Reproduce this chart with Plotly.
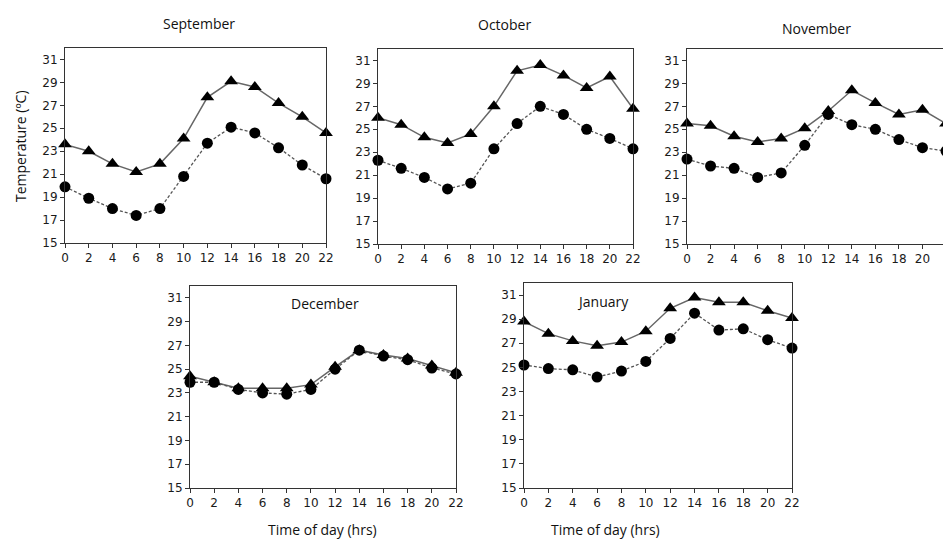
import plotly.graph_objects as go

hours = [0, 2, 4, 6, 8, 10, 12, 14, 16, 18, 20, 22]
months = ["September", "October", "November", "December", "January"]

tri_sep = [23.6, 23.0, 21.9, 21.2, 21.9, 24.1, 27.7, 29.1, 28.6, 27.2, 26.0, 24.6]
cir_sep = [19.9, 18.9, 18.0, 17.4, 18.0, 20.8, 23.7, 25.1, 24.6, 23.3, 21.8, 20.6]
tri_oct = [26.0, 25.4, 24.3, 23.8, 24.6, 27.0, 30.1, 30.6, 29.7, 28.6, 29.6, 26.8]
cir_oct = [22.3, 21.6, 20.8, 19.8, 20.3, 23.3, 25.5, 27.0, 26.3, 25.0, 24.2, 23.3]
tri_nov = [25.5, 25.3, 24.4, 23.9, 24.2, 25.1, 26.6, 28.4, 27.3, 26.3, 26.7, 25.5]
cir_nov = [22.4, 21.8, 21.6, 20.8, 21.2, 23.6, 26.3, 25.4, 25.0, 24.1, 23.4, 23.1]
tri_dec = [24.4, 23.9, 23.4, 23.4, 23.4, 23.7, 25.2, 26.6, 26.2, 25.9, 25.3, 24.7]
cir_dec = [23.9, 23.9, 23.3, 23.0, 22.9, 23.3, 25.0, 26.6, 26.1, 25.8, 25.1, 24.6]
tri_jan = [28.8, 27.8, 27.2, 26.8, 27.1, 28.0, 29.9, 30.8, 30.4, 30.4, 29.7, 29.1]
cir_jan = [25.2, 24.9, 24.8, 24.2, 24.7, 25.5, 27.4, 29.5, 28.1, 28.2, 27.3, 26.6]

y_ticks = [15, 17, 19, 21, 23, 25, 27, 29, 31]
x_ticks = hours

tri_data = [tri_sep, tri_oct, tri_nov, tri_dec, tri_jan]
cir_data = [cir_sep, cir_oct, cir_nov, cir_dec, cir_jan]

# the page puts the figure 8px in from the top-left corner
OFF = 8
W, H = 951 - OFF, 540 - OFF
# panel boxes in page pixels: (left, right, top, bottom)
boxes = [(65, 326, 48, 243), (378, 633, 49, 244), (687, 946, 49, 244),
         (190, 456, 286, 488), (524, 792, 283, 488)]


def px(x):
    return (x - OFF) / W


def py(y):
    return 1 - (y - OFF) / H


fig = go.Figure()
tick_font = dict(family="DejaVu Sans", size=12, color="#1a1a1a")
for i, (l, r, t, b) in enumerate(boxes):
    n = i + 1
    xa = "x" if n == 1 else f"x{n}"
    ya = "y" if n == 1 else f"y{n}"
    fig.add_trace(go.Scatter(
        x=hours, y=tri_data[i], xaxis=xa, yaxis=ya, mode="lines+markers",
        line=dict(color="#666666", width=1.5),
        marker=dict(symbol="triangle-up", size=12, color="black"),
        cliponaxis=False, showlegend=False))
    fig.add_trace(go.Scatter(
        x=hours, y=cir_data[i], xaxis=xa, yaxis=ya, mode="lines+markers",
        line=dict(color="#555555", width=1.3, dash="3px,2px"),
        marker=dict(symbol="circle", size=11, color="black"),
        cliponaxis=False, showlegend=False))
    axcommon = dict(showgrid=False, zeroline=False, showline=True, linecolor="#333",
                    linewidth=1, mirror=True, ticks="outside", ticklen=4,
                    tickcolor="#333", tickfont=tick_font, automargin=False)
    fig.update_layout(**{
        ("xaxis" if n == 1 else f"xaxis{n}"): dict(
            domain=[px(l), px(r)], range=[0, 22], tickvals=x_ticks,
            anchor=ya, **axcommon),
        ("yaxis" if n == 1 else f"yaxis{n}"): dict(
            domain=[py(b), py(t)], range=[15, 32], tickvals=y_ticks,
            anchor=xa, **axcommon),
    })

title_font = dict(family="Open Sans", size=14, color="#111")
ann = [
    dict(text="September", x=199, y=23),
    dict(text="October", x=504, y=24),
    dict(text="November", x=816, y=28),
    dict(text="December", x=325, y=303),
    dict(text="January", x=603, y=301),
]
annotations = []
for a in ann:
    annotations.append(dict(text=a["text"], x=px(a["x"]), y=py(a["y"]),
                            xref="paper", yref="paper", showarrow=False,
                            font=title_font, xanchor="center", yanchor="middle"))
lab_font = dict(family="Open Sans", size=14, color="#111")
annotations.append(dict(text="Temperature (ºC)", x=px(20), y=py(146), xref="paper",
                        yref="paper", showarrow=False, textangle=-90, font=lab_font,
                        xanchor="center", yanchor="middle"))
for cx in (322, 605):
    annotations.append(dict(text="Time of day (hrs)", x=px(cx), y=py(529),
                            xref="paper", yref="paper", showarrow=False, font=lab_font,
                            xanchor="center", yanchor="middle"))

fig.update_layout(width=W, height=H, margin=dict(l=0, r=0, t=0, b=0),
                  paper_bgcolor="white", plot_bgcolor="white",
                  annotations=annotations)
fig.write_html("out.html")
